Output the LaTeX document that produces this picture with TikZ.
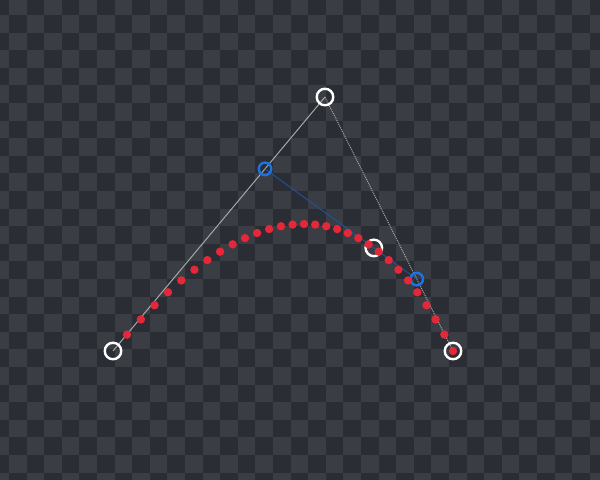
\documentclass[tikz,border=0pt]{standalone}
\usetikzlibrary{calc}
\definecolor{bgdark}{HTML}{2A2D33}
\definecolor{bglight}{HTML}{3A3D43}
\definecolor{hullgray}{HTML}{A8A8A8}
\definecolor{lerpblue}{HTML}{1A73E8}
\definecolor{lerpline}{HTML}{1F5290}
\definecolor{dotred}{HTML}{E4283A}
\begin{document}
\begin{tikzpicture}[
  x=1bp, y=-1bp,
  ctrl/.style={circle, draw=white, line width=2.4bp, fill=none, inner sep=0pt, minimum size=16.5bp},
  lerp/.style={circle, draw=lerpblue, line width=2.4bp, fill=none, inner sep=0pt, minimum size=12.5bp},
  curvedot/.style={circle, fill=dotred, draw=none, inner sep=0pt, minimum size=8.4bp}
]
  \useasboundingbox (0,0) rectangle (600,480);

  % Fondo a cuadros
  \begin{scope}
    \clip (-3,-3) rectangle (603,483);
    \fill[bgdark] (-3,-3) rectangle (603,483);
    \foreach \i in {-1,...,33}{
      \foreach \j in {-1,...,27}{
        \pgfmathtruncatemacro\parity{\i+\j+2}
        \ifodd\parity
          \fill[bglight] ({9+17.6*\i},{15+17.6*\j}) rectangle ++(17.6,17.6);
        \fi
      }
    }
  \end{scope}

  % Puntos de control y parametro t
  \def\tpar{0.717}
  \coordinate (p0) at (113,351);
  \coordinate (p1) at (325,97);
  \coordinate (p2) at (453,351);
  \coordinate (q0) at ($(p0)!\tpar!(p1)$);
  \coordinate (q1) at ($(p1)!\tpar!(p2)$);
  \coordinate (b) at ($(q0)!\tpar!(q1)$);

  % Poligono de control
  \draw[hullgray, line width=1bp] (p0) -- (p1);
  \draw[hullgray, line width=1bp, dash pattern=on 1bp off 1bp] (p1) -- (p2);
  \draw[lerpline, line width=1bp] (q0) -- (q1);

  % Circulos
  \node[ctrl] (c0) at (p0) {};
  \node[ctrl] (c1) at (p1) {};
  \node[ctrl] (c2) at (p2) {};
  \node[lerp] (l0) at (q0) {};
  \node[lerp] (l1) at (q1) {};
  \node[ctrl] (cb) at (b) {};

  % Puntos de la curva cuadratica
  \foreach \k in {1,...,30}{
    \pgfmathsetmacro\tv{\k/30}
    \pgfmathsetmacro\px{(1-\tv)^2*113+2*\tv*(1-\tv)*325+\tv^2*453}
    \pgfmathsetmacro\py{(1-\tv)^2*351+2*\tv*(1-\tv)*97+\tv^2*351}
    \node[curvedot] (d\k) at (\px,\py) {};
  }
\end{tikzpicture}
\end{document}
